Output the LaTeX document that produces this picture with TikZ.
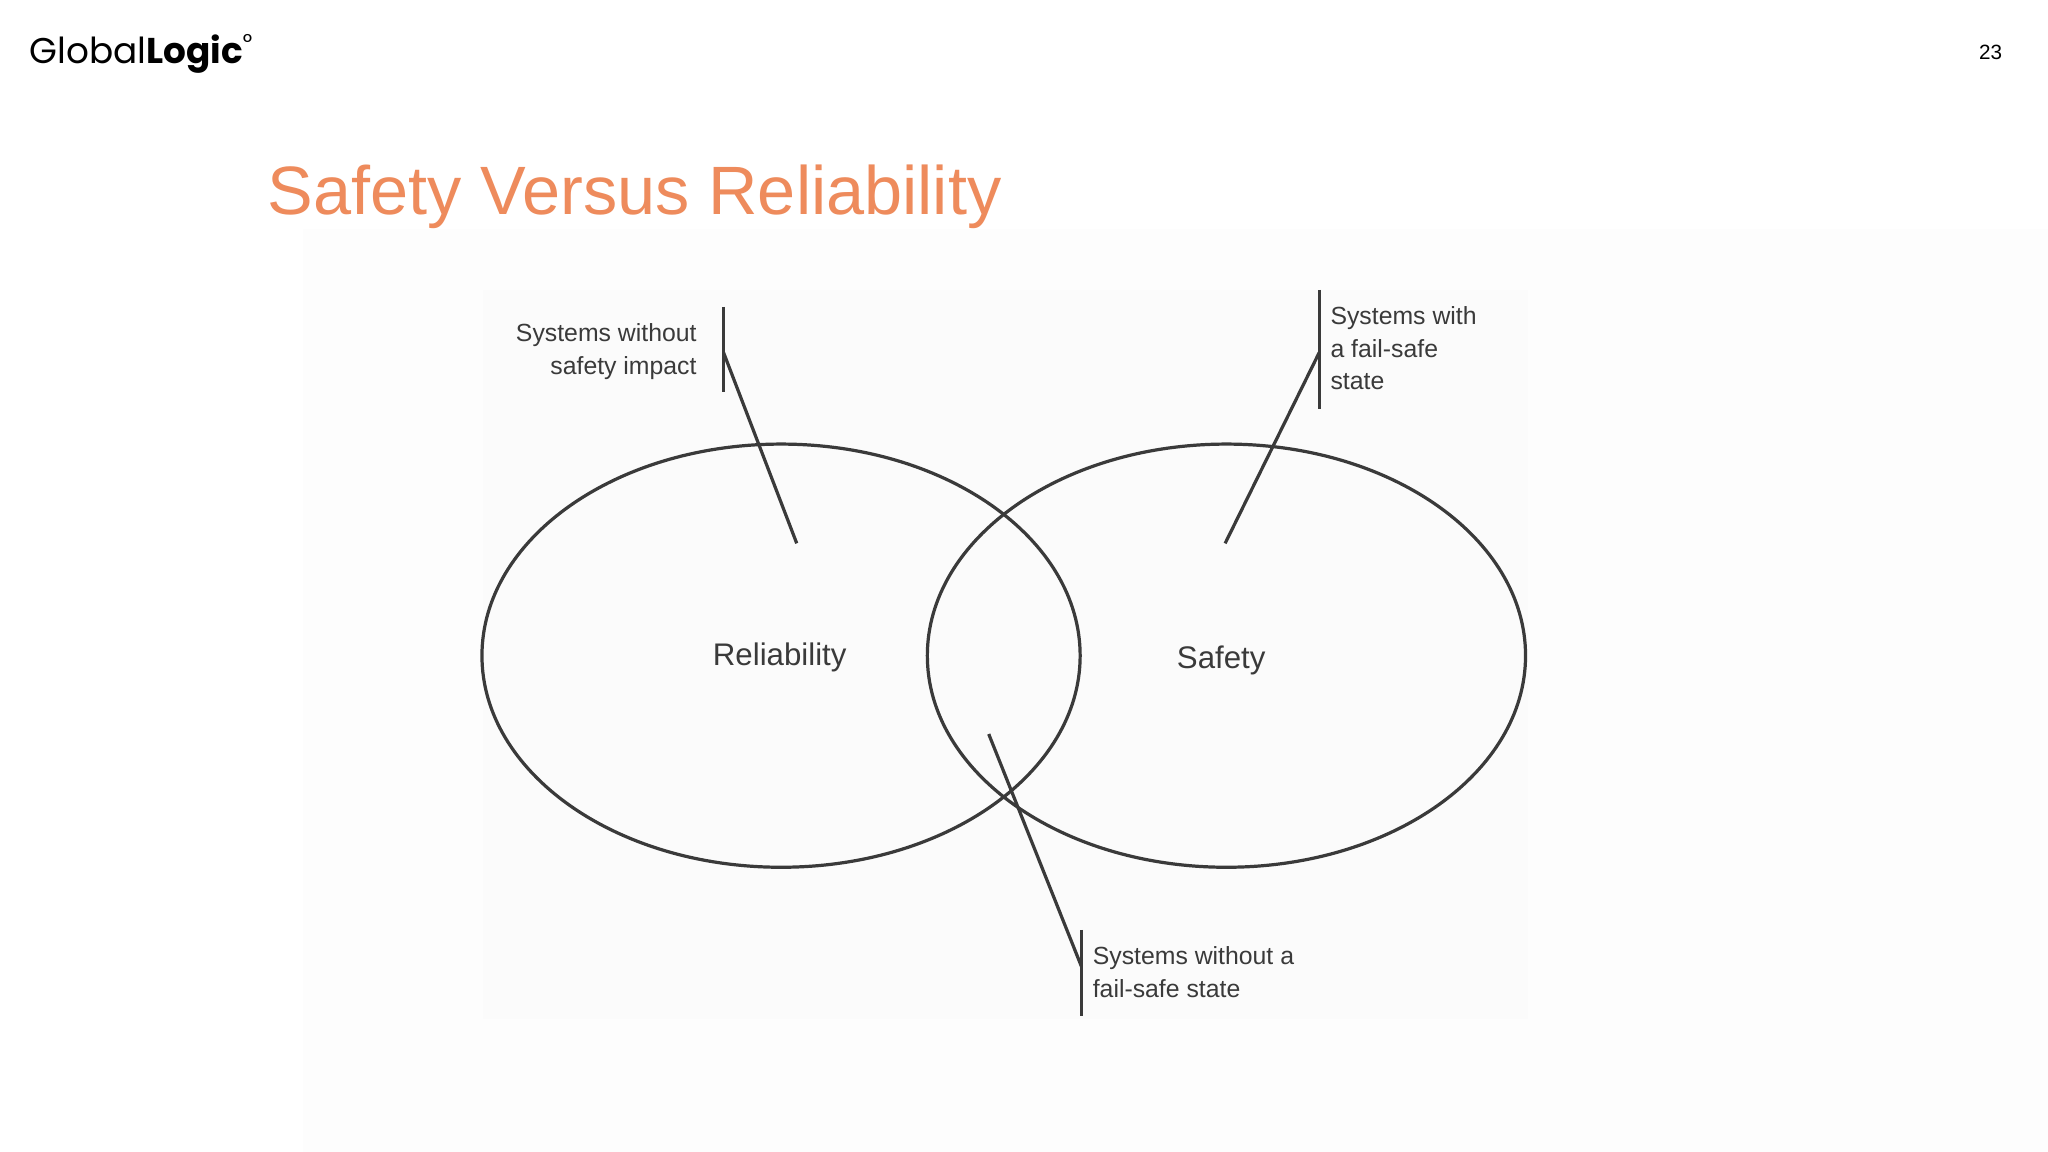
\documentclass[tikz,border=0pt]{standalone}
\usepackage{fontspec}
\setmainfont{Liberation Sans}
\newfontfamily\logofont{Poppins}
\definecolor{ttl}{HTML}{EE8B5C}
\definecolor{ln}{HTML}{3A3A3A}
\begin{document}
\begin{tikzpicture}[x=0.01cm,y=-0.01cm,
  lbl/.style={font=\fontsize{5.4}{7.1}\selectfont, text=ln, inner sep=0},
  ell/.style={draw=ln, line width=0.7pt},
  lead/.style={draw=ln, line width=0.7pt}]
\useasboundingbox (0,0) rectangle (1568,882);
\fill[white] (0,0) rectangle (1568,882);
\fill[black!0.6] (232,175) rectangle (1568,882);
\fill[black!1.5] (370,222) rectangle (1170,780);
\node[anchor=west, inner sep=0, font=\logofont\fontsize{7.8}{9}\selectfont] (logo) at (22,41) {Global\textbf{Logic}\textsuperscript{\tiny\textdegree}};
\node[inner sep=0, font=\fontsize{4.5}{5}\selectfont] (pg) at (1524,40) {23};
\node[anchor=west, inner sep=0, text=ttl, font=\fontsize{14.9}{17}\selectfont] (title) at (204,151) {Safety Versus Reliability};
\draw[ell] (598,502) ellipse [x radius=229, y radius=162];
\draw[ell] (939,502) ellipse [x radius=229, y radius=162];
\node[lbl, font=\fontsize{6.8}{9}\selectfont] (rel) at (597,503) {Reliability};
\node[lbl, font=\fontsize{6.8}{9}\selectfont] (saf) at (935,506) {Safety};
% leaders
\coordinate (b1t) at (554,235); \coordinate (b1b) at (554,300); \coordinate (b1m) at (554,270); \coordinate (e1) at (610,416);
\coordinate (b2t) at (1010,222); \coordinate (b2b) at (1010,313); \coordinate (b2m) at (1010,270); \coordinate (e2) at (938,416);
\coordinate (b3t) at (828,712); \coordinate (b3b) at (828,778); \coordinate (b3m) at (828,740); \coordinate (e3) at (757,562);
\draw[lead] (b1t) -- (b1b); \draw[lead] (b1m) -- (e1);
\draw[lead] (b2t) -- (b2b); \draw[lead] (b2m) -- (e2);
\draw[lead] (b3t) -- (b3b); \draw[lead] (b3m) -- (e3);
\node[lbl, anchor=north east, align=right] (t1) at (534,247) {Systems without\\safety impact};
\node[lbl, anchor=north west, align=left] (t2) at (1018,234) {Systems with\\a fail-safe\\state};
\node[lbl, anchor=north west, align=left] (t3) at (836,724) {Systems without a\\fail-safe state};
\end{tikzpicture}
\end{document}
